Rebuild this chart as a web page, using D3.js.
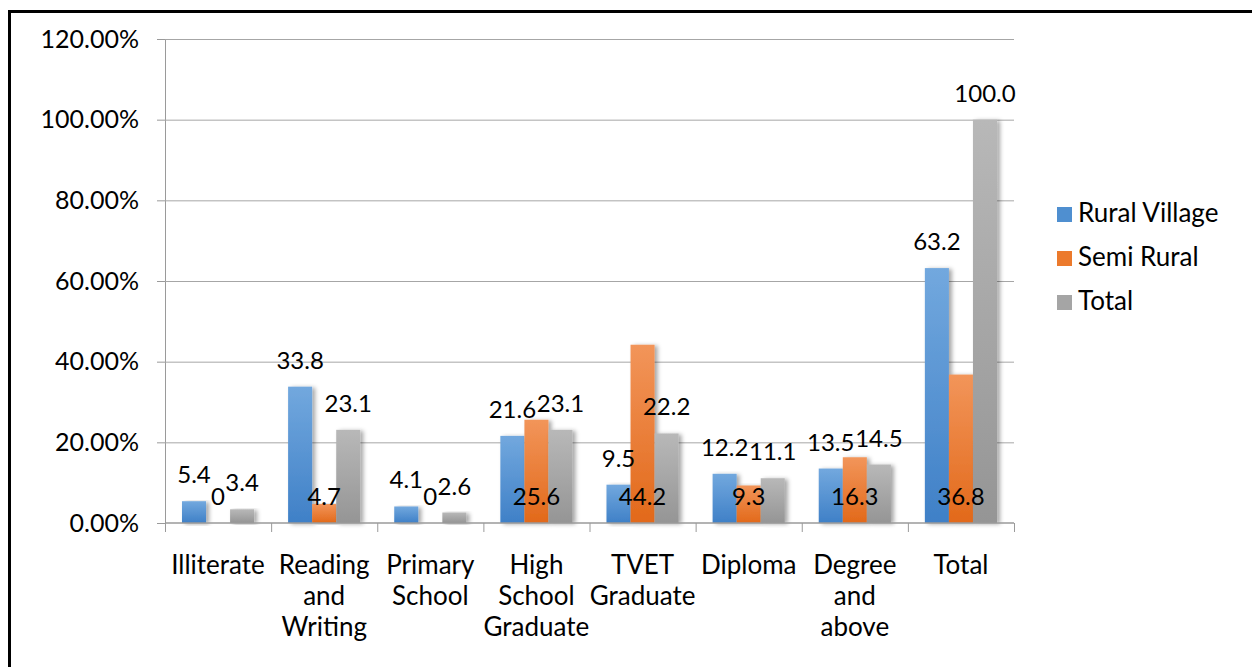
<!DOCTYPE html>
<html>
<head>
<meta charset="utf-8">
<script src="https://cdn.jsdelivr.net/npm/d3@7"></script>
<style>
  body { margin: 0; background: #fff; }
  svg { display: block; font-family: Lato, "Open Sans", sans-serif; }
</style>
</head>
<body>
<svg id="chart" width="1252" height="667"></svg>
<script>
// Education level categories
var categories = ["Illiterate", "Reading and Writing", "Primary School", "High School Graduate",
                  "TVET Graduate", "Diploma", "Degree and above", "Total"];
var seriesNames = ["Rural Village", "Semi Rural", "Total"];
var ruralVillage = [5.4, 33.8, 4.1, 21.6, 9.5, 12.2, 13.5, 63.2];
var semiRural = [0, 4.7, 0, 25.6, 44.2, 9.3, 16.3, 36.8];
var total = [3.4, 23.1, 2.6, 23.1, 22.2, 11.1, 14.5, 100.0];
var yTicks = [0, 20, 40, 60, 80, 100, 120];

var seriesValues = [ruralVillage, semiRural, total];
// colour pairs: top / bottom of the bar gradient
var grad = [["#72a8de", "#3f80c7"], ["#f2955a", "#e2691a"], ["#b8b8b8", "#959595"]];
var legendFill = ["#4f8fd0", "#ec7a2c", "#a5a5a5"];

var svg = d3.select("#chart");

// outer border of the chart (right/bottom run off the picture)
svg.append("rect")
    .attr("x", 9.5).attr("y", 11.5)
    .attr("width", 1300).attr("height", 700)
    .attr("fill", "none")
    .attr("stroke", "#000")
    .attr("stroke-width", 3);

var defs = svg.append("defs");
grad.forEach(function(g, i) {
    var lg = defs.append("linearGradient")
        .attr("id", "g" + i)
        .attr("x1", 0).attr("y1", 0).attr("x2", 0).attr("y2", 1);
    lg.append("stop").attr("offset", "0%").attr("stop-color", g[0]);
    lg.append("stop").attr("offset", "100%").attr("stop-color", g[1]);
});
var f = defs.append("filter").attr("id", "shadow")
    .attr("x", "-20%").attr("y", "-5%").attr("width", "160%").attr("height", "115%");
f.append("feDropShadow")
    .attr("dx", 3).attr("dy", 1).attr("stdDeviation", 2)
    .attr("flood-color", "#000").attr("flood-opacity", 0.35);

var x0 = 165, x1 = 1014, yTop = 39, yBase = 523;

var x = d3.scaleBand()
    .domain(categories)
    .range([x0, x1])
    .paddingInner(0.32)
    .paddingOuter(0.16);

var xs = d3.scaleBand()
    .domain(d3.range(seriesNames.length))
    .range([0, x.bandwidth()]);

var y = d3.scaleLinear().domain([0, 120]).range([yBase, yTop]);

// gridlines + y axis
var yAxis = svg.append("g")
    .attr("transform", "translate(" + x0 + ",0)")
    .call(d3.axisLeft(y).tickValues(yTicks).tickSize(8).tickPadding(18)
        .tickFormat(function(d) { return d.toFixed(2) + "%"; }));
yAxis.select(".domain").attr("stroke", "#9a9a9a");
yAxis.selectAll(".tick line").attr("stroke", "#9a9a9a");
yAxis.selectAll(".tick text")
    .attr("font-size", 25)
    .attr("font-family", "Lato, sans-serif")
    .attr("fill", "#000");

svg.append("g").selectAll("line")
    .data(yTicks.filter(function(d) { return d > 0; }))
    .enter().append("line")
    .attr("x1", x0).attr("x2", x1)
    .attr("y1", function(d) { return y(d) + 0.5; })
    .attr("y2", function(d) { return y(d) + 0.5; })
    .attr("stroke", "#a6a6a6");

// bars
var groups = svg.append("g").selectAll("g")
    .data(categories)
    .enter().append("g")
    .attr("transform", function(d) { return "translate(" + x(d) + ",0)"; });

groups.selectAll("rect")
    .data(function(d, i) { return seriesValues.map(function(s, k) { return { k: k, v: s[i] }; }); })
    .enter().append("rect")
    .attr("x", function(d) { return xs(d.k); })
    .attr("width", xs.bandwidth())
    .attr("y", function(d) { return y(d.v); })
    .attr("height", function(d) { return yBase - y(d.v); })
    .attr("fill", function(d) { return "url(#g" + d.k + ")"; })
    .attr("filter", function(d) { return d.v > 0 ? "url(#shadow)" : null; });

// x axis on top of the bars
var xAxis = svg.append("g")
    .attr("transform", "translate(0," + yBase + ")");
xAxis.append("line")
    .attr("x1", x0).attr("x2", x1)
    .attr("stroke", "#9a9a9a").attr("stroke-width", 1.5);
var step = x.step();
xAxis.selectAll(".xt")
    .data(d3.range(categories.length + 1))
    .enter().append("line")
    .attr("class", "xt")
    .attr("x1", function(i) { return x0 + i * step + 0.5; })
    .attr("x2", function(i) { return x0 + i * step + 0.5; })
    .attr("y1", 0).attr("y2", 9)
    .attr("stroke", "#9a9a9a");

// category labels, one word per line
var catText = xAxis.selectAll(".cat")
    .data(categories)
    .enter().append("text")
    .attr("class", "cat")
    .attr("text-anchor", "middle")
    .attr("font-size", 26)
    .attr("fill", "#000");
catText.each(function(d) {
    var t = d3.select(this);
    d.split(" ").forEach(function(w, j) {
        t.append("tspan")
            .attr("x", x(d) + x.bandwidth() / 2)
            .attr("y", 51 + j * 31)
            .text(w);
    });
});

// data labels
var labels = svg.append("g");
categories.forEach(function(c, i) {
    seriesValues.forEach(function(s, k) {
        var v = s[i];
        var ly = k === 1 ? yBase - 18 : y(v) - 18;
        labels.append("text")
            .attr("x", x(c) + xs(k) + xs.bandwidth() / 2)
            .attr("y", ly)
            .attr("text-anchor", "middle")
            .attr("font-size", 24)
            .attr("fill", "#000")
            .text(c === "Total" && k === 2 ? v.toFixed(1) : String(v));
    });
});

// legend
var legend = svg.append("g").selectAll("g")
    .data(seriesNames)
    .enter().append("g")
    .attr("transform", function(d, i) { return "translate(1057," + (207 + i * 44) + ")"; });
legend.append("rect")
    .attr("width", 15).attr("height", 15)
    .attr("fill", function(d, i) { return legendFill[i]; });
legend.append("text")
    .attr("x", 21).attr("y", 15)
    .attr("font-size", 26)
    .attr("fill", "#000")
    .text(function(d) { return d; });
</script>
</body>
</html>
